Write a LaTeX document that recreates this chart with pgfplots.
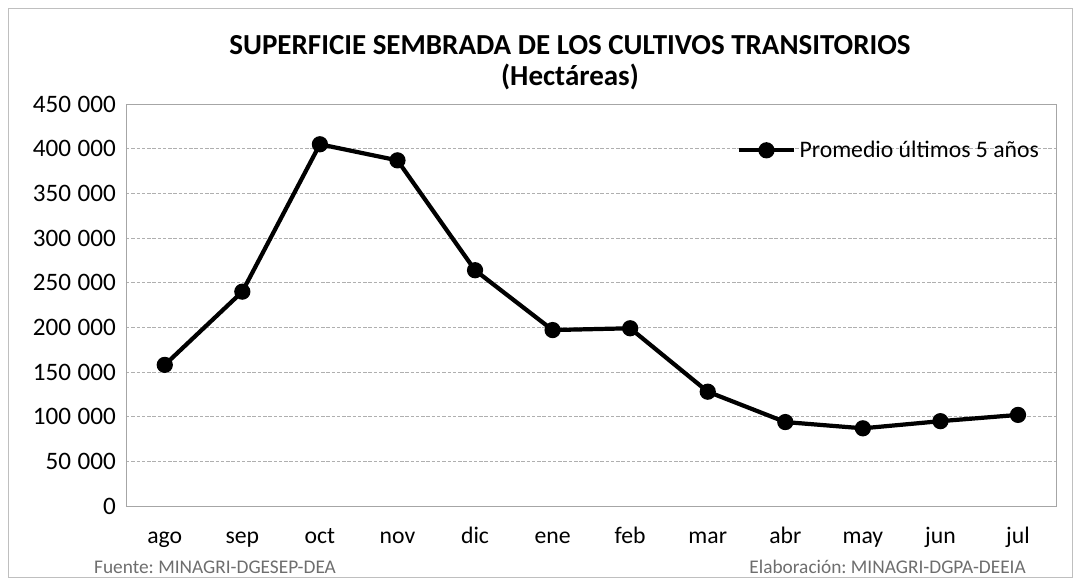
\documentclass[border=0pt]{standalone}
\usepackage{fontspec}
\setmainfont{Carlito}
\usepackage{pgfplots}
\pgfplotsset{compat=1.18}
\frenchspacing

\definecolor{gridgray}{RGB}{175,175,175}
\definecolor{footgray}{RGB}{110,110,110}
\newcommand{\ts}{\kern0.26em}

\begin{document}
\begin{tikzpicture}[x=0.02cm,y=0.02cm]
% page in pixel units of the reference (origin bottom left, height 581)
\useasboundingbox (0,0) rectangle (1075,581);
\draw[gray!50, line width=0.4pt] (8,4) rectangle (1072,573);

\node[font=\fontsize{16.5}{19}\selectfont\bfseries] at (570,536) {SUPERFICIE SEMBRADA DE LOS CULTIVOS TRANSITORIOS};
\node[font=\fontsize{16.5}{19}\selectfont\bfseries] at (570,504) {(Hectáreas)};

\begin{axis}[
    at={(2.52cm,1.5cm)}, anchor=south west,
    scale only axis,
    width=18.62cm, height=8.04cm,
    xmin=-0.5, xmax=11.5,
    ymin=0, ymax=450000,
    xtick={0,...,11},
    xticklabels={ago,sep,oct,nov,dic,ene,feb,mar,abr,may,jun,jul},
    ytick={0,50000,...,450000},
    yticklabels={0,50\ts000,100\ts000,150\ts000,200\ts000,250\ts000,300\ts000,350\ts000,400\ts000,450\ts000},
    scaled y ticks=false,
    ymajorgrids,
    grid style={gridgray, dash pattern=on 2pt off 1pt, line width=0.5pt},
    axis line style={gray!70, line width=0.5pt},
    major tick length=0pt,
    tick label style={font=\fontsize{13.5}{16}\selectfont, text=black},
    xticklabel style={yshift=-0.38cm, text height=1.5ex, text depth=0.3ex},
    yticklabel style={xshift=-0.08cm, font=\fontsize{14.3}{16}\selectfont},
    legend style={draw=none, fill=none, at={(0.985,0.885)}, anchor=east,
        font=\fontsize{13.5}{16}\selectfont, inner sep=0pt},
    legend cell align=left,
    legend image code/.code={
        \draw[#1] (-0.1cm,0cm) -- (1.0cm,0cm);
        \draw[#1, mark repeat=1] plot coordinates {(0.45cm,0cm)};
    },
]
\addplot[black, line width=2.4pt, mark=*, mark size=3.4pt] coordinates {
    (0,158000) (1,240000) (2,405000) (3,387000) (4,264000) (5,197000)
    (6,199000) (7,128000) (8,94000) (9,87000) (10,95000) (11,102000)
};
\addlegendentry{Promedio últimos 5 años}
\end{axis}

\node[font=\fontsize{11}{13}\selectfont, text=footgray, anchor=west] at (88,14) {Fuente: MINAGRI-DGESEP-DEA};
\node[font=\fontsize{11}{13}\selectfont, text=footgray, anchor=east] at (1032,14) {Elaboración: MINAGRI-DGPA-DEEIA};
\end{tikzpicture}
\end{document}
